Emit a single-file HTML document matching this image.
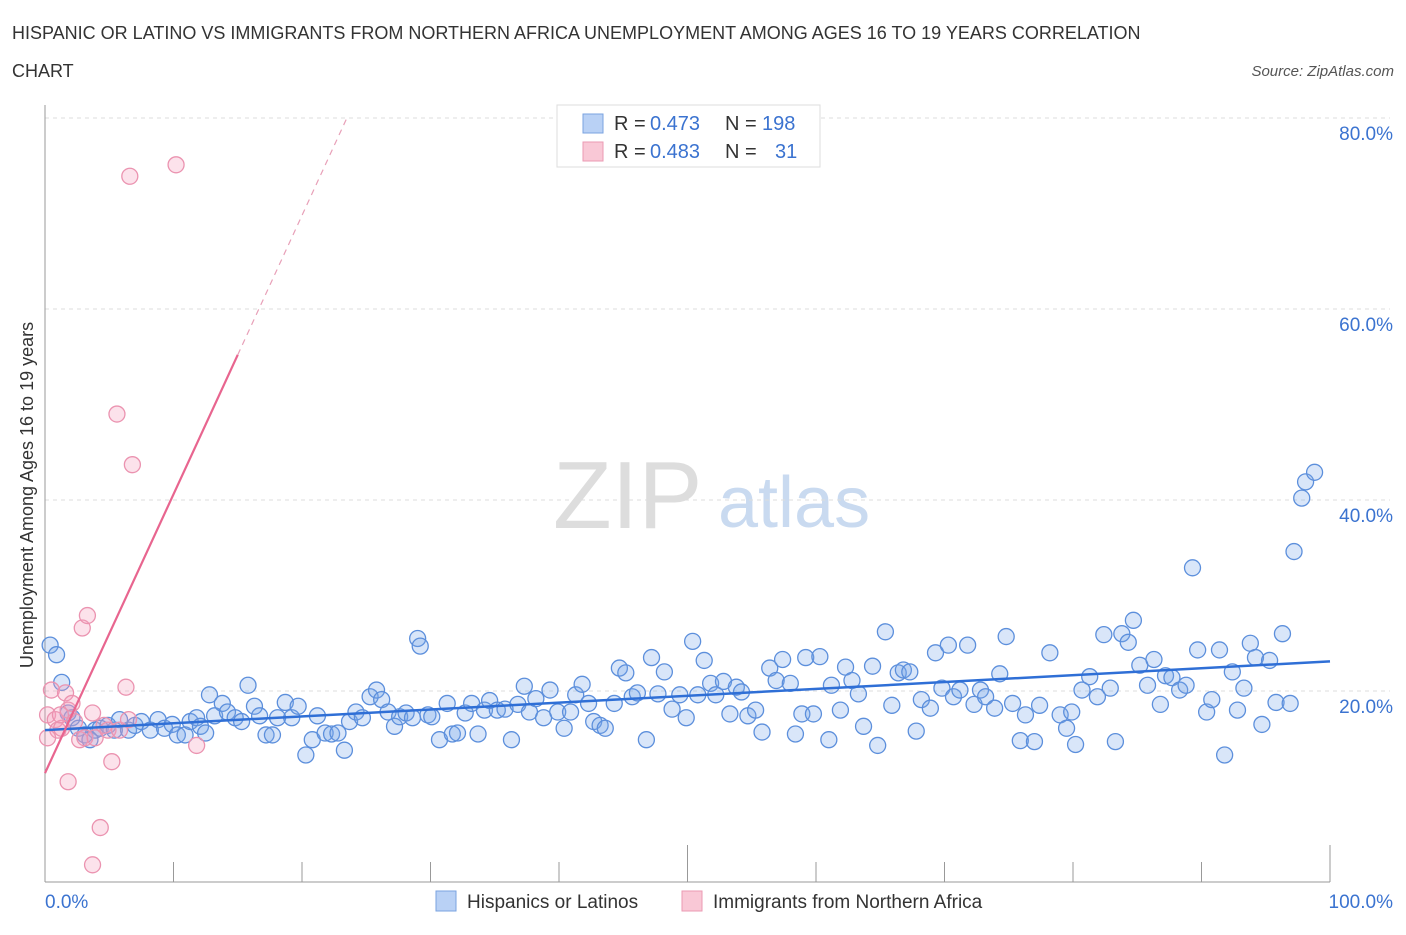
<!DOCTYPE html>
<html><head><meta charset="utf-8"><style>
body{margin:0;background:#fff;font-family:"Liberation Sans",sans-serif;}
svg text{font-family:"Liberation Sans",sans-serif;}
</style></head><body>
<svg id="chart" width="1406" height="930" xmlns="http://www.w3.org/2000/svg">
<text x="12" y="39" font-size="18" fill="#333">HISPANIC OR LATINO VS IMMIGRANTS FROM NORTHERN AFRICA UNEMPLOYMENT AMONG AGES 16 TO 19 YEARS CORRELATION</text>
<text x="12" y="77" font-size="18" fill="#333">CHART</text>
<text x="1394" y="76" font-size="15" fill="#555" text-anchor="end" font-style="italic">Source: ZipAtlas.com</text>
<g>
<text x="553" y="528" font-size="96" fill="#ddd" font-family="Liberation Serif,serif">ZIP</text>
<text x="718" y="527" font-size="72" fill="#c9daf0">atlas</text>
</g>
<g id="grid"></g>
<g id="axes"></g>
<g id="marks"></g>
<text transform="translate(33,495) rotate(-90)" font-size="18" fill="#333" text-anchor="middle">Unemployment Among Ages 16 to 19 years</text>
<g>
<rect x="557" y="105" width="263" height="62" fill="#fff" stroke="#ddd"/>
<rect x="583" y="114" width="20" height="19" fill="#b9d1f5" stroke="#7aa3e0"/>
<rect x="583" y="142" width="20" height="19" fill="#f9c8d6" stroke="#eb9ab3"/>
<text x="614" y="130" font-size="20" fill="#333">R =</text>
<text x="650" y="130" font-size="20" fill="#3b73d0">0.473</text>
<text x="725" y="130" font-size="20" fill="#333">N =</text>
<text x="762" y="130" font-size="20" fill="#3b73d0">198</text>
<text x="614" y="158" font-size="20" fill="#333">R =</text>
<text x="650" y="158" font-size="20" fill="#3b73d0">0.483</text>
<text x="725" y="158" font-size="20" fill="#333">N =</text>
<text x="775" y="158" font-size="20" fill="#3b73d0">31</text>
</g>
<g>
<rect x="436" y="891" width="20" height="20" fill="#b9d1f5" stroke="#7aa3e0"/>
<text x="467" y="908" font-size="19" fill="#333">Hispanics or Latinos</text>
<rect x="682" y="891" width="20" height="20" fill="#f9c8d6" stroke="#eb9ab3"/>
<text x="713" y="908" font-size="19" fill="#333">Immigrants from Northern Africa</text>
</g>
</svg>
<script>
const blueX=[0.4,0.9,1.3,1.8,2.1,2.6,3.1,3.5,3.9,4.3,4.9,5.4,5.8,6.5,7.0,7.5,8.2,8.8,9.3,9.9,10.3,10.9,11.3,11.8,12.1,12.5,12.8,13.2,13.8,14.2,14.8,15.3,15.8,16.3,16.7,17.2,17.7,18.1,18.7,19.2,19.7,20.3,20.8,21.2,21.8,22.3,22.8,23.3,23.7,24.2,24.7,25.3,25.8,26.2,26.7,27.2,27.6,28.1,28.6,29.0,29.2,29.8,30.1,30.7,31.3,31.7,32.1,32.7,33.2,33.7,34.2,34.6,35.2,35.8,36.3,36.8,37.3,37.7,38.2,38.8,39.3,39.9,40.4,40.9,41.3,41.8,42.3,42.7,43.2,43.6,44.3,44.7,45.2,45.7,46.1,46.8,47.2,47.7,48.2,48.8,49.4,49.9,50.4,50.8,51.3,51.8,52.2,52.8,53.3,53.8,54.2,54.7,55.3,55.8,56.4,56.9,57.4,58.0,58.4,58.9,59.2,59.8,60.3,61.0,61.2,61.9,62.3,62.8,63.3,63.7,64.4,64.8,65.4,65.9,66.4,66.8,67.3,67.8,68.2,68.9,69.3,69.8,70.3,70.7,71.2,71.8,72.3,72.8,73.2,73.9,74.3,74.8,75.3,75.9,76.3,77.0,77.4,78.2,79.0,79.5,79.9,80.2,80.7,81.3,81.9,82.4,82.9,83.3,83.8,84.3,84.7,85.2,85.8,86.3,86.8,87.2,87.7,88.3,88.8,89.3,89.7,90.4,90.8,91.4,91.8,92.4,92.8,93.3,93.8,94.2,94.7,95.3,95.8,96.3,96.9,97.2,97.8,98.1,98.8];
const blueY=[24.8,23.8,20.9,17.7,17.2,16.1,15.4,14.9,15.9,16.1,16.4,15.9,17.0,15.9,16.4,16.8,15.9,17.0,16.1,16.5,15.4,15.4,16.8,17.2,16.3,15.6,19.6,17.4,18.7,17.8,17.2,16.8,20.6,18.4,17.4,15.4,15.4,17.2,18.8,17.2,18.4,13.3,14.9,17.4,15.6,15.5,15.6,13.8,16.8,17.8,17.2,19.4,20.1,19.1,17.8,16.3,17.3,17.7,17.2,25.5,24.7,17.5,17.3,14.9,18.7,15.5,15.6,17.7,18.7,15.5,18.0,19.0,18.0,18.1,14.9,18.6,20.5,17.8,19.2,17.2,20.1,17.8,16.1,17.8,19.6,20.7,18.7,16.8,16.4,16.1,18.7,22.4,21.9,19.4,19.8,14.9,23.5,19.7,22.0,18.1,19.6,17.2,25.2,19.6,23.2,20.8,19.6,21.0,17.6,20.4,19.9,17.4,18.0,15.7,22.4,21.1,23.3,20.8,15.5,17.6,23.5,17.6,23.6,14.9,20.6,18.0,22.5,21.1,19.7,16.3,22.6,14.3,26.2,18.5,21.9,22.2,22.0,15.8,19.1,18.2,24.0,20.3,24.8,19.4,20.1,24.8,18.6,20.1,19.4,18.2,21.8,25.7,18.7,14.8,17.5,14.7,18.5,24.0,17.5,16.1,17.8,14.4,20.1,21.5,19.4,25.9,20.3,14.7,26.0,25.1,27.4,22.7,20.6,23.3,18.6,21.6,21.4,20.1,20.6,32.9,24.3,17.8,19.1,24.3,13.3,22.0,18.0,20.3,25.0,23.5,16.5,23.2,18.8,26.0,18.7,34.6,40.2,41.9,42.9];
const pinkX=[0.2,0.5,0.8,1.0,1.3,1.6,1.8,2.1,2.3,2.7,2.9,3.1,3.3,3.7,3.9,4.3,4.6,4.9,5.2,5.6,5.8,6.3,6.5,6.8,6.6,10.2,11.8,1.8,3.7,0.2,1.2];
const pinkY=[17.5,20.1,17.0,15.9,16.1,19.8,18.0,18.7,16.8,14.9,26.6,15.1,27.9,17.7,15.1,5.7,16.4,15.9,12.6,49.0,15.9,20.4,17.0,43.7,73.9,75.1,14.3,10.5,1.8,15.1,17.5];
const blueTrend=[15.9,0.072];
const pinkTrend=[11.4,2.92];
const yTicks=[20,40,60,80];
const yTickLabels=["20.0%","40.0%","60.0%","80.0%"];
const xTicks=[0,10,20,30,40,50,60,70,80,90,100];

const NS="http://www.w3.org/2000/svg";
const X0=45,X1=1330,Y0=882,PY=9.55;
function sx(v){return X0+(X1-X0)*v/100;}
function sy(v){return Y0-v*PY;}
function mk(tag,attrs,parent){const e=document.createElementNS(NS,tag);for(const k in attrs)e.setAttribute(k,attrs[k]);parent.appendChild(e);return e;}
const grid=document.getElementById('grid'),axes=document.getElementById('axes'),marks=document.getElementById('marks');
yTicks.forEach((t,i)=>{
  const l=mk('line',{x1:X0,x2:X1+60,y1:sy(t),y2:sy(t),stroke:'#ddd','stroke-dasharray':'4,4'},grid);
  
  
  const tx=mk('text',{x:1393,y:sy(t)+22,'font-size':19,fill:'#3b73d0','text-anchor':'end'},axes);
  tx.textContent=yTickLabels[i];
  
  
});
const ax=mk('line',{x1:X0,x2:X0,y1:105,y2:Y0,stroke:'#999'},axes);


const bx=mk('line',{x1:X0,x2:X1,y1:Y0,y2:Y0,stroke:'#999'},axes);


xTicks.forEach(t=>{
  const l=mk('line',{x1:sx(t),x2:sx(t),y1:Y0,y2:(t%50===0?845:862),stroke:'#999'},axes);
  
  
});
const xl0=mk('text',{x:45,y:908,'font-size':19,fill:'#3b73d0'},axes);xl0.textContent='0.0%';


const xl1=mk('text',{x:1393,y:908,'font-size':19,fill:'#3b73d0','text-anchor':'end'},axes);xl1.textContent='100.0%';



blueX.forEach((x,i)=>{
  const c=mk('circle',{cx:sx(x),cy:sy(blueY[i]),r:8,fill:'rgba(120,165,235,0.28)',stroke:'#5c8fdc','stroke-width':1.3},marks);
  
  
});
pinkX.forEach((x,i)=>{
  const c=mk('circle',{cx:sx(x),cy:sy(pinkY[i]),r:8,fill:'rgba(245,160,190,0.3)',stroke:'#eb93b0','stroke-width':1.3},marks);
  
  
});
const bt=mk('line',{x1:sx(0),y1:sy(blueTrend[0]),x2:sx(100),y2:sy(blueTrend[0]+100*blueTrend[1]),stroke:'#2f6fd6','stroke-width':2.5},marks);


const xe=15;
const pt=mk('line',{x1:sx(0),y1:sy(pinkTrend[0]),x2:sx(xe),y2:sy(pinkTrend[0]+xe*pinkTrend[1]),stroke:'#e8658f','stroke-width':2.2},marks);


const xe2=(80-pinkTrend[0])/pinkTrend[1];
const pd=mk('line',{x1:sx(xe),y1:sy(pinkTrend[0]+xe*pinkTrend[1]),x2:sx(xe2),y2:sy(80),stroke:'#e8a0b8','stroke-width':1.2,'stroke-dasharray':'6,5'},marks);


</script>
</body></html>
